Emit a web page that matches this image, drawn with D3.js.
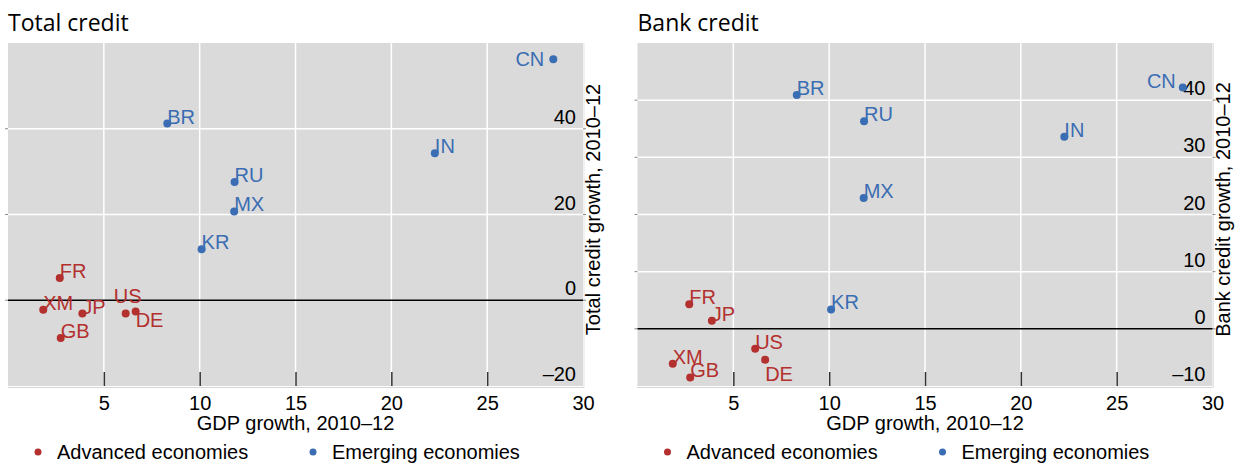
<!DOCTYPE html>
<html>
<head>
<meta charset="utf-8">
<script src="https://cdn.jsdelivr.net/npm/d3@7"></script>
<style>
  html, body { margin: 0; padding: 0; background: #ffffff; }
  svg { display: block; }
  .title { font-family: "Open Sans", "Noto Sans", sans-serif; font-size: 23px; fill: #000; }
  .txt { font-family: "Liberation Sans", Arial, sans-serif; font-size: 20px; }
</style>
</head>
<body>
<svg id="chart" width="1236" height="463"></svg>
<script>
// Country codes and groups
const countries = ["US", "JP", "GB", "FR", "DE", "XM", "BR", "CN", "IN", "KR", "MX", "RU"];
const groups = ["Advanced", "Advanced", "Advanced", "Advanced", "Advanced", "Advanced",
                "Emerging", "Emerging", "Emerging", "Emerging", "Emerging", "Emerging"];

// GDP growth, 2010–12 (x values)
const gdpGrowth = [6.14, 3.88, 2.75, 2.70, 6.66, 1.84, 8.31, 28.45, 22.27, 10.10, 11.80, 11.82];

// Credit growth, 2010–12 (y values)
const totalCreditGrowth = [-3.1, -3.1, -8.8, 5.2, -2.6, -2.2, 41.2, 56.2, 34.3, 11.9, 20.7, 27.6];
const bankCreditGrowth = [-3.5, 1.4, -8.5, 4.3, -5.4, -6.1, 40.9, 42.2, 33.6, 3.4, 22.9, 36.3];

// Axis ticks
const xTicks = [5, 10, 15, 20, 25, 30];
const totalYTicks = [-20, 0, 20, 40];
const bankYTicks = [-10, 0, 10, 20, 30, 40];

const legendLabels = ["Advanced economies", "Emerging economies"];

const colors = { Advanced: "#b3302e", Emerging: "#3a6db3" };

// Label placement around a dot (default: to the right, sitting on the dot)
const totalLabelPlacement = { CN: "left", US: "above", DE: "below" };
const bankLabelPlacement = { CN: "leftHigh", DE: "belowFar" };

const svg = d3.select("#chart");

function drawPanel(cfg) {
  const { x0, x1, yTop, yBottom, yDomain, yValues, yTicks, title, yTitle, placement } = cfg;
  const x = d3.scaleLinear().domain([0, 30]).range([x0, x1]);
  const y = d3.scaleLinear().domain(yDomain).range([yBottom, yTop]);
  const g = svg.append("g");

  // Title
  g.append("text").attr("class", "title")
    .attr("x", x0).attr("y", 31).text(title);

  // Plot background
  g.append("rect")
    .attr("x", x0).attr("y", yTop)
    .attr("width", x1 - x0).attr("height", yBottom - yTop)
    .attr("fill", "#dadada");

  // Thin light frame at the bottom and right
  g.append("line").attr("x1", x0).attr("x2", x1 + 1).attr("y1", yBottom + 1.5).attr("y2", yBottom + 1.5)
    .attr("stroke", "#d6d6d6").attr("stroke-width", 1);
  g.append("line").attr("x1", x1 + 1).attr("x2", x1 + 1).attr("y1", yTop).attr("y2", yBottom + 1.5)
    .attr("stroke", "#e4e4e4").attr("stroke-width", 1);

  // Gridlines
  const grid = g.append("g");
  grid.selectAll("line.v").data(xTicks.filter(t => t < 30)).join("line")
    .attr("class", "v")
    .attr("x1", d => x(d)).attr("x2", d => x(d))
    .attr("y1", yTop).attr("y2", yBottom)
    .attr("stroke", "#ffffff").attr("stroke-width", 1.5);
  grid.selectAll("line.h").data(yTicks.filter(t => t !== 0 && y(t) > yTop + 1 && y(t) < yBottom - 1)).join("line")
    .attr("class", "h")
    .attr("x1", x0).attr("x2", x1)
    .attr("y1", d => y(d)).attr("y2", d => y(d))
    .attr("stroke", "#ffffff").attr("stroke-width", 1.5);

  // Small outer ticks on the left and right edges
  const inner = yTicks.filter(t => y(t) > yTop + 1 && y(t) < yBottom - 1);
  grid.selectAll("line.lt").data(inner).join("line")
    .attr("class", "lt")
    .attr("x1", x0 - 3).attr("x2", x0)
    .attr("y1", d => y(d)).attr("y2", d => y(d))
    .attr("stroke", "#8a8a8a").attr("stroke-width", 1);
  grid.selectAll("line.rt").data(inner).join("line")
    .attr("class", "rt")
    .attr("x1", x1).attr("x2", x1 + 3)
    .attr("y1", d => y(d)).attr("y2", d => y(d))
    .attr("stroke", "#8a8a8a").attr("stroke-width", 1);

  // Zero line
  g.append("line")
    .attr("x1", x0).attr("x2", x1)
    .attr("y1", y(0)).attr("y2", y(0))
    .attr("stroke", "#000").attr("stroke-width", 1.5);

  // X axis: inward tick marks and labels below
  const xAxis = d3.axisBottom(x).tickValues(xTicks).tickSize(-14).tickPadding(10)
    .tickFormat(d3.format("d"));
  const ax = g.append("g").attr("transform", `translate(0,${yBottom})`).call(xAxis);
  ax.select(".domain").remove();
  ax.selectAll(".tick line").attr("stroke", "#333").attr("stroke-width", 1.5)
    .filter(d => d === 30).remove();
  ax.selectAll(".tick text").attr("class", "txt").attr("font-size", null)
    .attr("font-family", null).style("fill", "#000");

  // X axis title
  g.append("text").attr("class", "txt").style("fill", "#000")
    .attr("x", (x0 + x1) / 2).attr("y", 430).attr("text-anchor", "middle")
    .text("GDP growth, 2010–12");

  // Y tick labels inside the plot on the right
  g.selectAll("text.yt").data(yTicks).join("text")
    .attr("class", "txt yt").style("fill", "#000")
    .attr("x", x1 - 7).attr("y", d => y(d) - 5)
    .attr("text-anchor", "end")
    .text(d => d < 0 ? "–" + Math.abs(d) : d);

  // Y axis title (rotated, right side)
  g.append("text").attr("class", "txt").style("fill", "#000")
    .attr("transform", `translate(${x1 + 17},${(yTop + yBottom) / 2 - 5}) rotate(-90)`)
    .attr("text-anchor", "middle")
    .text(yTitle);

  // Points and labels
  const pts = countries.map((c, i) => ({ c, grp: groups[i], gx: gdpGrowth[i], gy: yValues[i] }));
  g.selectAll("text.lab").data(pts).join("text")
    .attr("class", "txt lab")
    .style("fill", d => colors[d.grp])
    .each(function (d) {
      const px = x(d.gx), py = y(d.gy);
      const pos = placement[d.c] || "right";
      const t = d3.select(this).text(d.c);
      if (pos === "left") {
        t.attr("x", px - 9).attr("y", py + 7).attr("text-anchor", "end");
      } else if (pos === "leftHigh") {
        t.attr("x", px - 7).attr("y", py).attr("text-anchor", "end");
      } else if (pos === "above") {
        t.attr("x", px + 2).attr("y", py - 11).attr("text-anchor", "middle");
      } else if (pos === "below") {
        t.attr("x", px).attr("y", py + 16).attr("text-anchor", "start");
      } else if (pos === "belowFar") {
        t.attr("x", px).attr("y", py + 21).attr("text-anchor", "start");
      } else {
        t.attr("x", px).attr("y", py).attr("text-anchor", "start");
      }
    });
  g.selectAll("circle.pt").data(pts).join("circle")
    .attr("class", "pt")
    .attr("cx", d => x(d.gx)).attr("cy", d => y(d.gy)).attr("r", 4)
    .attr("fill", d => colors[d.grp]);

  // Legend
  const leg = g.append("g");
  const legX = [x0 + 30, x0 + 305];
  legendLabels.forEach((lab, i) => {
    const grp = i === 0 ? "Advanced" : "Emerging";
    leg.append("circle").attr("cx", legX[i]).attr("cy", 452).attr("r", 3.5).attr("fill", colors[grp]);
    leg.append("text").attr("class", "txt").style("fill", "#000")
      .attr("x", legX[i] + 19).attr("y", 459).text(lab);
  });
}

drawPanel({
  x0: 8, x1: 583, yTop: 43, yBottom: 386, yDomain: [-20, 60],
  yValues: totalCreditGrowth, yTicks: totalYTicks,
  title: "Total credit", yTitle: "Total credit growth, 2010–12",
  placement: totalLabelPlacement
});
drawPanel({
  x0: 637.5, x1: 1212.5, yTop: 43, yBottom: 386, yDomain: [-10, 50],
  yValues: bankCreditGrowth, yTicks: bankYTicks,
  title: "Bank credit", yTitle: "Bank credit growth, 2010–12",
  placement: bankLabelPlacement
});
</script>
</body>
</html>
